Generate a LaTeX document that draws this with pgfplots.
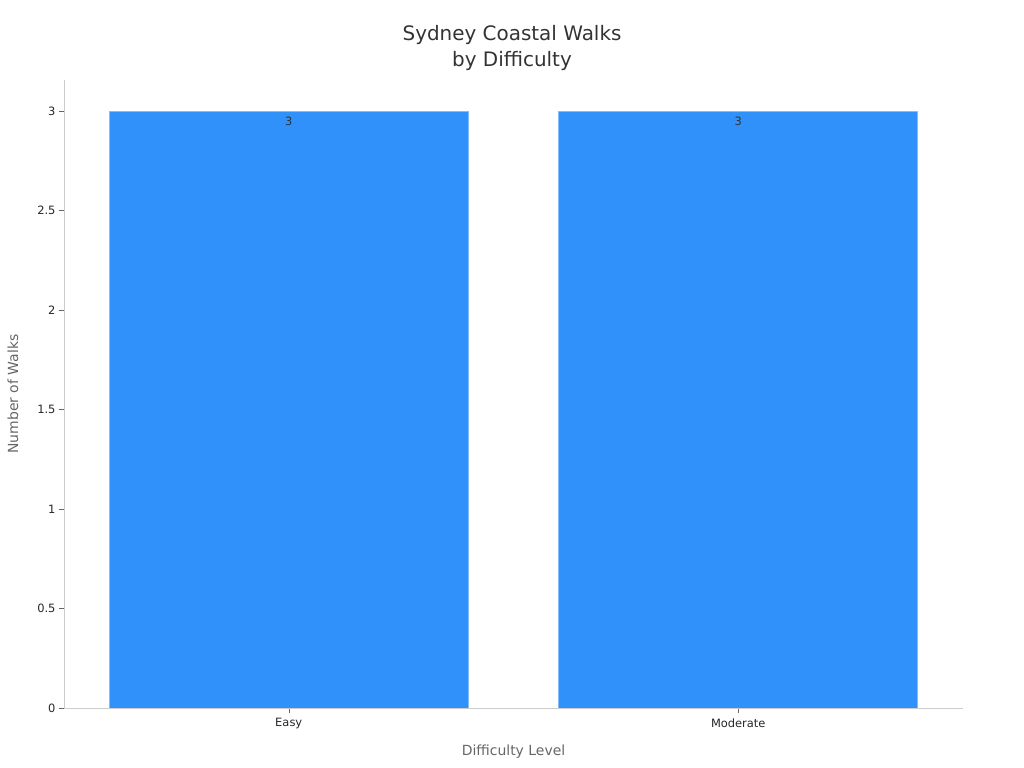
\documentclass[border=0pt]{standalone}
\usepackage{pgfplots}
\pgfplotsset{compat=1.18}
\usepackage{fontspec}
\setmainfont{DejaVu Sans}
\definecolor{barblue}{RGB}{48,145,250}
\definecolor{axgray}{RGB}{204,204,204}
\definecolor{txt}{RGB}{51,51,51}
\definecolor{lbl}{RGB}{102,102,102}
\begin{document}
\begin{tikzpicture}
\path[use as bounding box] (0bp,0bp) rectangle (1024bp,768bp);
\node[font=\fontsize{20}{26}\selectfont, text=txt, align=center] at (512bp,720bp) {Sydney Coastal Walks\\by Difficulty};
\begin{axis}[
    at={(64bp,60bp)}, anchor=south west,
    scale only axis, width=899bp, height=628bp,
    xmin=-0.5, xmax=1.5, ymin=0, ymax=3.156,
    xtick={0,1}, xticklabels={Easy,Moderate},
    ytick={0,0.5,1,1.5,2,2.5,3},
    yticklabels={0,0.5,1,1.5,2,2.5,3},
    axis x line*=bottom, axis y line*=left,
    axis line style={axgray},
    tick style={lbl, thin}, tick align=outside,
    major tick length=5bp,
    /pgf/number format/assume math mode=true,
    ticklabel style={font=\fontsize{11.5}{13}\selectfont, text=black!85},
    xticklabel style={yshift=-2bp},
    xlabel={Difficulty Level}, ylabel={Number of Walks},
    label style={font=\fontsize{14}{16}\selectfont, text=lbl},
    xlabel style={at={(axis description cs:0.5,0)}, anchor=center, yshift=-44bp},
    ylabel style={at={(axis description cs:0,0.5)}, anchor=center, rotate=0, yshift=51bp},
    ybar, bar width=359bp,
]
\addplot[fill=barblue, draw=barblue!60!white, line width=0.6bp,
    nodes near coords,
    nodes near coords style={font=\fontsize{11.5}{13}\selectfont, text=txt, anchor=center, yshift=-10bp}]
    coordinates {(0,3) (1,3)};
\end{axis}
\end{tikzpicture}
\end{document}
